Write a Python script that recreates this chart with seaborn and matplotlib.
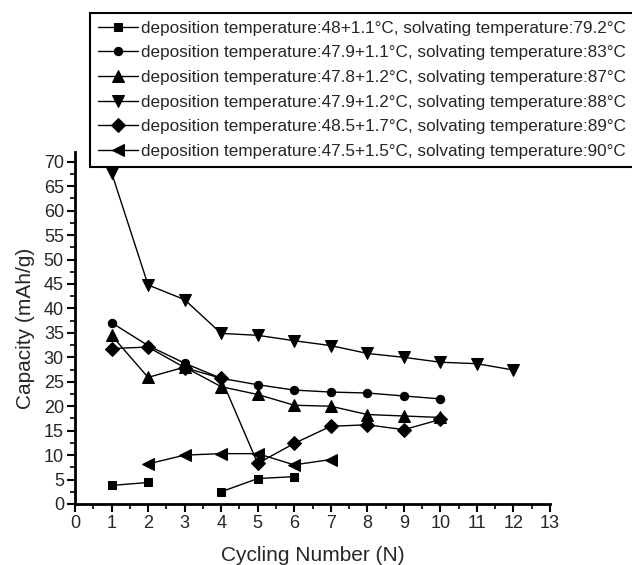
import numpy as np
import pandas as pd
import matplotlib
matplotlib.use("Agg")
import matplotlib.pyplot as plt
from matplotlib.ticker import MultipleLocator
import seaborn as sns

cycles = [1, 2, 3, 4, 5, 6, 7, 8, 9, 10, 11, 12]

labels = [
    "deposition temperature:48+1.1°C, solvating temperature:79.2°C",
    "deposition temperature:47.9+1.1°C, solvating temperature:83°C",
    "deposition temperature:47.8+1.2°C, solvating temperature:87°C",
    "deposition temperature:47.9+1.2°C, solvating temperature:88°C",
    "deposition temperature:48.5+1.7°C, solvating temperature:89°C",
    "deposition temperature:47.5+1.5°C, solvating temperature:90°C",
]

s79 = [3.8, 4.4, None, 2.5, 5.2, 5.6]
s83 = [37.1, 32.4, 28.8, 25.7, 24.4, 23.3, 22.9, 22.7, 22.1, 21.5]
s87 = [34.5, 25.9, 28.0, 24.0, 22.4, 20.2, 20.0, 18.3, 18.0, 17.7]
s88 = [67.8, 44.8, 41.8, 34.9, 34.5, 33.4, 32.4, 30.8, 30.0, 29.0, 28.7, 27.4]
s89 = [31.8, 32.1, 27.9, 25.7, 8.3, 12.4, 15.9, 16.2, 15.2, 17.3]
s90 = [None, 8.2, 10.0, 10.3, 10.3, 8.0, 9.1]

series = [s79, s83, s87, s88, s89, s90]
markers = ["s", "o", "^", "v", "D", "<"]
msizes = [5.5, 6, 8, 8, 7, 8]

rows = []
for lab, vals in zip(labels, series):
    seg = 0
    for x, v in zip(cycles, vals):
        if v is None:
            seg += 1
            continue
        rows.append({"cycle": x, "cap": v, "series": lab, "seg": f"{lab}-{seg}"})
df = pd.DataFrame(rows)

sns.set_style("ticks")
plt.rcParams["font.family"] = ["Liberation Sans", "DejaVu Sans"]

fig = plt.figure(figsize=(6.32, 5.65), dpi=100)
ax = fig.add_axes([75 / 632, 1 - 504 / 565, 475 / 632, (504 - 152) / 565])

handles = []
for lab, m, ms in zip(labels, markers, msizes):
    sub = df[df["series"] == lab]
    n0 = len(ax.lines)
    sns.lineplot(data=sub, x="cycle", y="cap", units="seg", estimator=None,
                 color="black", marker=m, markersize=ms, markeredgecolor="black",
                 linewidth=1.0, ax=ax, legend=False, sort=False)
    handles.append(ax.lines[n0])

ax.set_xlim(0, 13)
ax.set_ylim(0, 72)
ax.xaxis.set_major_locator(MultipleLocator(1))
ax.xaxis.set_minor_locator(MultipleLocator(0.5))
ax.yaxis.set_minor_locator(MultipleLocator(2.5))
ax.set_yticks(np.arange(0, 71, 5))
ax.tick_params(axis="both", which="major", direction="out", length=6, width=1.5,
               labelsize=13, pad=2, color="black")
ax.tick_params(axis="both", which="minor", direction="out", length=3.5, width=1.2,
               color="black")
for sp in ["top", "right"]:
    ax.spines[sp].set_visible(False)
for sp in ["left", "bottom"]:
    ax.spines[sp].set_linewidth(2)
    ax.spines[sp].set_color("black")

ax.set_xlabel("Cycling Number (N)", fontsize=15, labelpad=10)
ax.set_ylabel("Capacity (mAh/g)", fontsize=15, labelpad=6)

leg = fig.legend(handles, labels, loc="upper left",
                 bbox_to_anchor=(90 / 632, 1 - 13 / 565), bbox_transform=fig.transFigure,
                 borderaxespad=0, frameon=True, fancybox=False, edgecolor="black",
                 fontsize=12.35, handlelength=2.35, handletextpad=0.2,
                 labelspacing=0.56, borderpad=0.45, framealpha=1)
leg.get_frame().set_linewidth(1.5)

fig.savefig("out.png", dpi=100)
